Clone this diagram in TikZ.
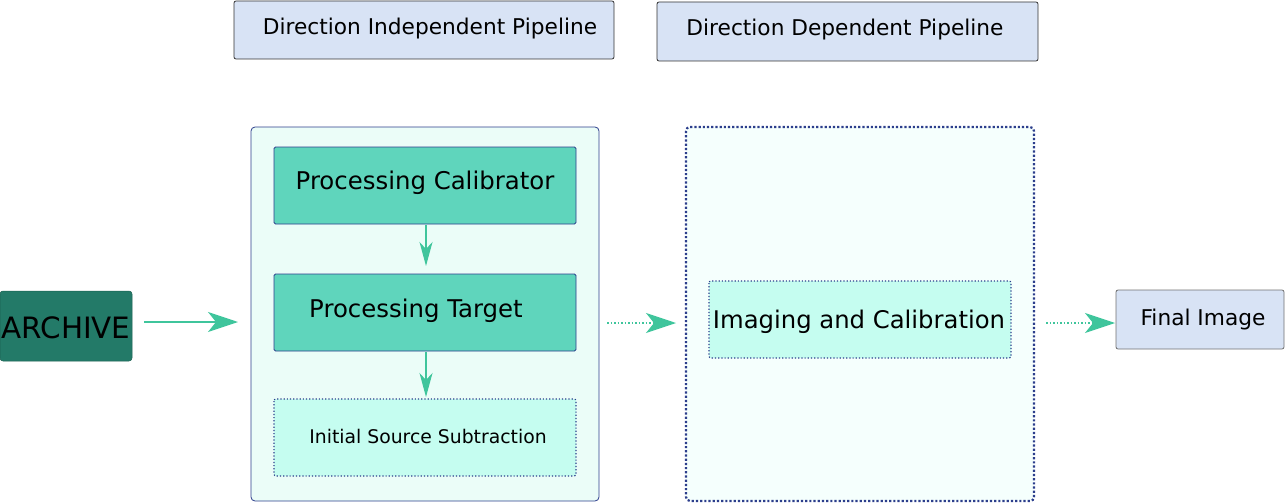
\documentclass[tikz,border=0pt]{standalone}
\usepackage{fontspec}
\setmainfont{DejaVu Sans}
\usetikzlibrary{arrows.meta}
\definecolor{hdrfill}{HTML}{D8E3F5}
\definecolor{hdrline}{HTML}{333333}
\definecolor{navy}{HTML}{2C3E8C}
\definecolor{contfill}{HTML}{EBFDF8}
\definecolor{cont2fill}{HTML}{F5FFFD}
\definecolor{procfill}{HTML}{5FD5BC}
\definecolor{subfill}{HTML}{C5FDF0}
\definecolor{archfill}{HTML}{237A68}
\definecolor{arrowgreen}{HTML}{3FC59C}
\tikzset{
  hdr/.style={draw=hdrline, fill=hdrfill, rounded corners=2pt, line width=0.8pt},
  proc/.style={draw=navy, fill=procfill, rounded corners=1.5pt, line width=0.8pt},
  sub/.style={draw=navy, fill=subfill, dotted, rounded corners=2pt, line width=1.2pt},
  flow/.style={draw=arrowgreen, line width=1.5pt, -{Stealth[length=30pt,width=20pt,inset=8pt,fill=arrowgreen]}},
  vflow/.style={draw=arrowgreen, line width=1.2pt, -{Stealth[length=24pt,width=13pt,inset=7pt,fill=arrowgreen]}},
  dflow/.style={flow, dotted},
  lbl/.style={inner sep=0pt, anchor=center, text=black},
}
\begin{document}
\begin{tikzpicture}[x=1pt,y=-1pt]
\useasboundingbox (0,0) rectangle (1285,503);
% headers
\draw[hdr] (234,1) rectangle (614,59);
\node[lbl, font=\fontsize{21.7}{26}\selectfont] (hdi) at (430,29) {Direction Independent Pipeline};
\draw[hdr] (657,2) rectangle (1038,61);
\node[lbl, font=\fontsize{21.7}{26}\selectfont] (hdd) at (845,30) {Direction Dependent Pipeline};
% containers
\draw[draw=navy, fill=contfill, rounded corners=4pt, line width=0.8pt] (251,127) rectangle (599,501);
\draw[draw=navy, fill=cont2fill, rounded corners=4pt, dotted, line width=2.2pt] (686,127) rectangle (1034,501);
\coordinate (c1w) at (238,322);
\coordinate (c1e) at (607,323);
\coordinate (c2w) at (676,323);
\coordinate (c2e) at (1046,323);
% boxes
\draw[proc] (274,147) rectangle (576,224);
\node[lbl, font=\fontsize{24.4}{29}\selectfont] (pc) at (425,183) {Processing Calibrator};
\coordinate (pcs) at (426,225);
\draw[proc] (274,274) rectangle (576,351);
\node[lbl, font=\fontsize{24.4}{29}\selectfont] (pt) at (416,311) {Processing Target};
\coordinate (ptn) at (426,266);
\coordinate (pts) at (426,352);
\draw[sub] (274,399) rectangle (576,476);
\node[lbl, font=\fontsize{18.8}{22}\selectfont] (iss) at (428,436) {Initial Source Subtraction};
\coordinate (issn) at (426,397);
\draw[sub] (709,281) rectangle (1011,358);
\node[lbl, font=\fontsize{24.3}{29}\selectfont] (ic) at (859,322) {Imaging and Calibration};
% archive
\draw[fill=archfill, draw=archfill!80!black, rounded corners=3pt, line width=0.5pt] (0,291) rectangle (132,361);
\node[lbl, font=\fontsize{29.4}{34}\selectfont] (arch) at (66,328) {ARCHIVE};
\coordinate (arche) at (144,322);
% final
\draw[hdr, draw=hdrline!70] (1116,290) rectangle (1284,349);
\node[lbl, font=\fontsize{21.7}{26}\selectfont] (fin) at (1203,320) {Final Image};
\coordinate (finw) at (1115,323);
% arrows
\draw[vflow] (pcs) -- (ptn);
\draw[vflow] (pts) -- (issn);
\draw[flow] (arche) -- (c1w);
\draw[dflow] (c1e) -- (c2w);
\draw[dflow] (c2e) -- (finw);
\end{tikzpicture}
\end{document}
